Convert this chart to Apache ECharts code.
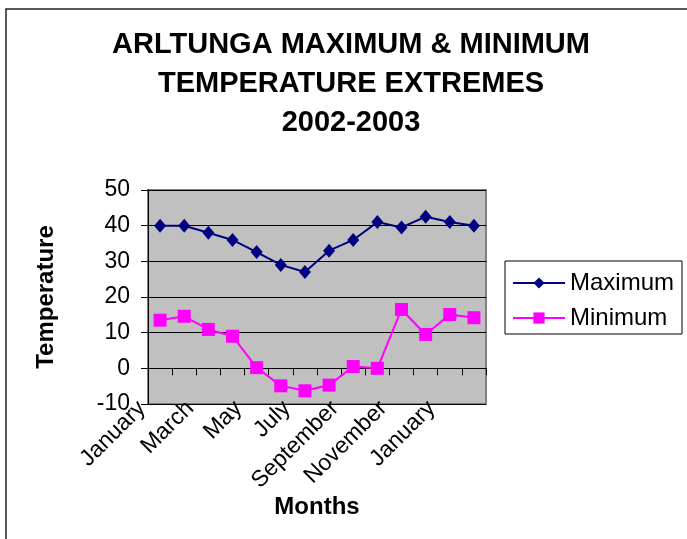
<!DOCTYPE html>
<html>
<head>
<meta charset="utf-8">
<script src="https://cdn.jsdelivr.net/npm/echarts@6/dist/echarts.min.js"></script>
<style>
html,body{margin:0;padding:0;background:#fff;}
#chart{width:687px;height:539px;}
</style>
</head>
<body>
<div id="chart"></div>
<script>
var categories = ['January','February','March','April','May','June','July','August','September','October','November','December','January','February'];
var maximum = [40, 40, 38, 36, 32.6, 29, 27, 33, 36, 41, 39.5, 42.5, 41, 40];
var minimum = [13.5, 14.6, 10.9, 9, 0.2, -4.9, -6.3, -4.7, 0.5, 0, 16.5, 9.5, 15.1, 14.2];
var yTicks = {min: -10, max: 50, interval: 10};
var titleText = 'ARLTUNGA MAXIMUM & MINIMUM\nTEMPERATURE EXTREMES\n2002-2003';

var FONT = '"Liberation Sans", Arial, sans-serif';
var chart = echarts.init(document.getElementById('chart'));
chart.setOption({
  backgroundColor: '#fff',
  animation: false,
  graphic: [{
    type: 'rect', shape: {x: 6, y: 9, width: 720, height: 600},
    style: {fill: null, stroke: '#222', lineWidth: 1.5}, silent: true
  }],
  title: {
    text: titleText, left: 351, top: 25, textAlign: 'center', padding: 0,
    textStyle: {fontFamily: FONT, fontWeight: 'bold', fontSize: 29, lineHeight: 39, color: '#000'}
  },
  legend: {
    orient: 'vertical', left: 505, top: 261, padding: [10, 8, 4, 7],
    borderColor: '#000', borderWidth: 1, itemGap: 11,
    itemWidth: 52, itemHeight: 14,
    textStyle: {fontFamily: FONT, fontSize: 24, color: '#000'},
    data: ['Maximum', 'Minimum']
  },
  grid: [
    {left: 148, top: 190, width: 338, height: 214, show: true, backgroundColor: '#C0C0C0', borderColor: '#808080', borderWidth: 2},
    {left: 138, top: 190, width: 338, height: 214, show: false}
  ],
  xAxis: [{
    type: 'category', gridIndex: 0, data: categories, boundaryGap: true, position: 'bottom',
    axisLine: {show: true, onZero: true, lineStyle: {color: '#000', width: 1}},
    axisTick: {show: true, interval: 0, length: 7, lineStyle: {color: '#000'}},
    axisLabel: {show: false}, splitLine: {show: false}
  }, {
    type: 'category', gridIndex: 1, data: categories, boundaryGap: true, position: 'bottom',
    axisLine: {show: false, onZero: false}, axisTick: {show: false},
    axisLabel: {show: true, interval: 1, rotate: 45, margin: 9, verticalAlign: 'bottom', fontFamily: FONT, fontSize: 23, color: '#000'},
    name: 'Months', nameLocation: 'middle', nameGap: 86,
    nameTextStyle: {fontFamily: FONT, fontWeight: 'bold', fontSize: 24, color: '#000', padding: [0, 0, 0, 20]}
  }],
  yAxis: [{
    type: 'value', gridIndex: 0, min: yTicks.min, max: yTicks.max, interval: yTicks.interval,
    axisLine: {show: true, lineStyle: {color: '#000', width: 1}},
    axisTick: {show: true, length: 7, lineStyle: {color: '#000'}},
    axisLabel: {margin: 18, fontFamily: FONT, fontSize: 23, color: '#000'},
    splitLine: {show: true, lineStyle: {color: '#000', width: 1}},
    name: 'Temperature', nameLocation: 'middle', nameGap: 90, nameRotate: 90,
    nameTextStyle: {fontFamily: FONT, fontWeight: 'bold', fontSize: 24, color: '#000'}
  }, {
    type: 'value', gridIndex: 1, min: yTicks.min, max: yTicks.max, interval: yTicks.interval, show: false
  }],
  series: [{
    name: 'Maximum', type: 'line', xAxisIndex: 0, yAxisIndex: 0, data: maximum,
    symbol: 'diamond', symbolSize: [12, 14],
    lineStyle: {color: '#000080', width: 2}, itemStyle: {color: '#000080'}
  }, {
    name: 'Minimum', type: 'line', xAxisIndex: 0, yAxisIndex: 0, data: minimum,
    symbol: 'rect', symbolSize: 13,
    lineStyle: {color: '#FF00FF', width: 2}, itemStyle: {color: '#FF00FF'}
  }]
});
</script>
</body>
</html>
